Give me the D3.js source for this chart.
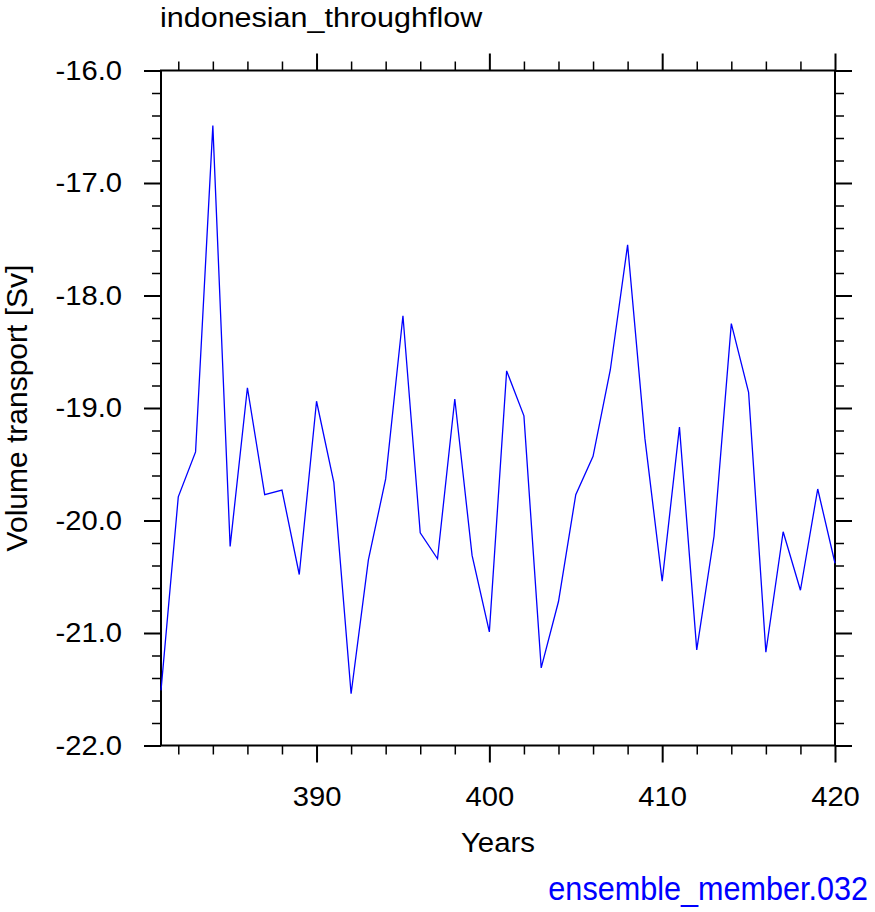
<!DOCTYPE html>
<html>
<head>
<meta charset="utf-8">
<script src="https://cdn.jsdelivr.net/npm/d3@7"></script>
<style>
  body { margin: 0; background: #fff; }
  text { font-family: "Liberation Sans", Arial, Helvetica, sans-serif; }
</style>
</head>
<body>
<script>
// data
const years = [381, 382, 383, 384, 385, 386, 387, 388, 389, 390,
               391, 392, 393, 394, 395, 396, 397, 398, 399, 400,
               401, 402, 403, 404, 405, 406, 407, 408, 409, 410,
               411, 412, 413, 414, 415, 416, 417, 418, 419, 420];
const transport = [-21.51, -19.79, -19.39, -16.49, -20.23, -18.82, -19.77, -19.73, -20.48, -18.94,
                   -19.66, -21.54, -20.35, -19.63, -18.18, -20.11, -20.34, -18.92, -20.31, -20.99,
                   -18.67, -19.07, -21.31, -20.72, -19.77, -19.43, -18.66, -17.55, -19.27, -20.54,
                   -19.17, -21.15, -20.14, -18.25, -18.86, -21.17, -20.10, -20.62, -19.72, -20.38];
const xMajorTicks = [390, 400, 410, 420];
const yMajorTicks = [-22, -21, -20, -19, -18, -17, -16];
const titleText = "indonesian_throughflow";
const yLabelText = "Volume transport [Sv]";
const xLabelText = "Years";
const memberText = "ensemble_member.032";

const width = 875, height = 912;
const plotL = 161, plotR = 835, plotT = 70.5, plotB = 745.5;

const svg = d3.select("body").append("svg")
    .attr("width", width)
    .attr("height", height);

const x = d3.scaleLinear().domain([381, 420]).range([plotL, plotR]);
const y = d3.scaleLinear().domain([-22, -16]).range([plotB, plotT]);

const xMinor = d3.range(382, 420, 2).filter(d => xMajorTicks.indexOf(d) < 0);
const yMinor = d3.range(-22, -16, 0.2).map(d => +d.toFixed(1)).filter(d => yMajorTicks.indexOf(d) < 0);

function styleAxis(g, w) {
    g.select(".domain").remove();
    g.selectAll(".tick line").attr("stroke", "#000").attr("stroke-width", w);
    g.attr("font-size", null).attr("font-family", null);
}

// minor ticks, all four sides
const minorLen = 9, majorLen = 17;
svg.append("g").attr("transform", "translate(0," + plotB + ")")
    .call(d3.axisBottom(x).tickValues(xMinor).tickSize(minorLen).tickSizeOuter(0).tickFormat(""))
    .call(g => styleAxis(g, 1.5));
svg.append("g").attr("transform", "translate(0," + plotT + ")")
    .call(d3.axisTop(x).tickValues(xMinor).tickSize(minorLen).tickSizeOuter(0).tickFormat(""))
    .call(g => styleAxis(g, 1.5));
svg.append("g").attr("transform", "translate(" + plotL + ",0)")
    .call(d3.axisLeft(y).tickValues(yMinor).tickSize(minorLen).tickSizeOuter(0).tickFormat(""))
    .call(g => styleAxis(g, 1.5));
svg.append("g").attr("transform", "translate(" + plotR + ",0)")
    .call(d3.axisRight(y).tickValues(yMinor).tickSize(minorLen).tickSizeOuter(0).tickFormat(""))
    .call(g => styleAxis(g, 1.5));

// major ticks
const xAxis = svg.append("g").attr("transform", "translate(0," + plotB + ")")
    .call(d3.axisBottom(x).tickValues(xMajorTicks).tickSize(majorLen).tickSizeOuter(0).tickPadding(24).tickFormat(d3.format("d")))
    .call(g => styleAxis(g, 2));
xAxis.selectAll(".tick text")
    .attr("fill", "#000")
    .attr("font-size", 27)
    .attr("transform", "scale(1.08,1)");

svg.append("g").attr("transform", "translate(0," + plotT + ")")
    .call(d3.axisTop(x).tickValues(xMajorTicks).tickSize(majorLen).tickSizeOuter(0).tickFormat(""))
    .call(g => styleAxis(g, 2));

const yAxis = svg.append("g").attr("transform", "translate(" + plotL + ",0)")
    .call(d3.axisLeft(y).tickValues(yMajorTicks).tickSize(majorLen).tickSizeOuter(0).tickPadding(22).tickFormat(d => d.toFixed(1)))
    .call(g => styleAxis(g, 2));
yAxis.selectAll(".tick text")
    .attr("fill", "#000")
    .attr("font-size", 27)
    .attr("x", -39 / 1.08)
    .attr("transform", "scale(1.08,1)");

svg.append("g").attr("transform", "translate(" + plotR + ",0)")
    .call(d3.axisRight(y).tickValues(yMajorTicks).tickSize(majorLen).tickSizeOuter(0).tickFormat(""))
    .call(g => styleAxis(g, 2));

// frame
svg.append("rect")
    .attr("x", plotL).attr("y", plotT)
    .attr("width", plotR - plotL).attr("height", plotB - plotT)
    .attr("fill", "none")
    .attr("stroke", "#000")
    .attr("stroke-width", 2);

// the series
const series = years.map((d, i) => ({ year: d, value: transport[i] }));
svg.append("path")
    .datum(series)
    .attr("fill", "none")
    .attr("stroke", "#0000ff")
    .attr("stroke-width", 1.3)
    .attr("d", d3.line().x(d => x(d.year)).y(d => y(d.value)));

// texts
svg.append("text")
    .attr("transform", "translate(160,27.3) scale(1.09,1)")
    .attr("font-size", 28)
    .attr("fill", "#000")
    .text(titleText);

svg.append("text")
    .attr("transform", "translate(27," + (plotT + plotB) / 2 + ") rotate(-90)")
    .attr("text-anchor", "middle")
    .attr("font-size", 30)
    .attr("fill", "#000")
    .text(yLabelText);

svg.append("text")
    .attr("transform", "translate(" + (plotL + plotR) / 2 + ",851.7) scale(1.05,1)")
    .attr("text-anchor", "middle")
    .attr("font-size", 28)
    .attr("fill", "#000")
    .text(xLabelText);

svg.append("text")
    .attr("transform", "translate(868,900) scale(0.9,1)")
    .attr("text-anchor", "end")
    .attr("font-size", 34)
    .attr("fill", "#0000ff")
    .text(memberText);
</script>
</body>
</html>
